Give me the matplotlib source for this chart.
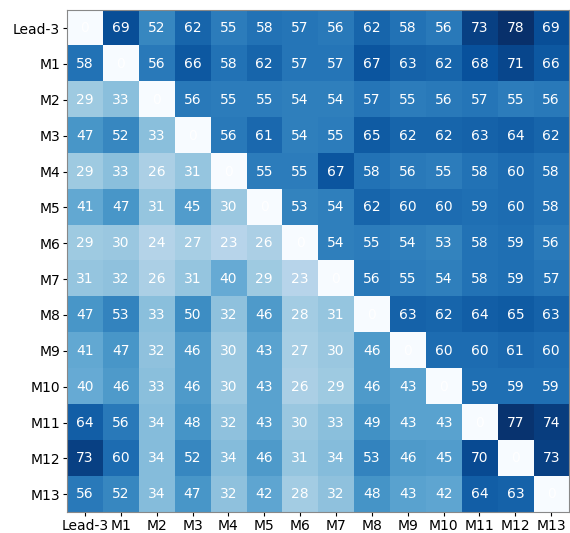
import numpy as np
import matplotlib
matplotlib.use('Agg')
import matplotlib.pyplot as plt

labels = ['Lead-3', 'M1', 'M2', 'M3', 'M4', 'M5', 'M6', 'M7', 'M8', 'M9', 'M10', 'M11', 'M12', 'M13']

row_lead3 = [0, 69, 52, 62, 55, 58, 57, 56, 62, 58, 56, 73, 78, 69]
row_m1 = [58, 0, 56, 66, 58, 62, 57, 57, 67, 63, 62, 68, 71, 66]
row_m2 = [29, 33, 0, 56, 55, 55, 54, 54, 57, 55, 56, 57, 55, 56]
row_m3 = [47, 52, 33, 0, 56, 61, 54, 55, 65, 62, 62, 63, 64, 62]
row_m4 = [29, 33, 26, 31, 0, 55, 55, 67, 58, 56, 55, 58, 60, 58]
row_m5 = [41, 47, 31, 45, 30, 0, 53, 54, 62, 60, 60, 59, 60, 58]
row_m6 = [29, 30, 24, 27, 23, 26, 0, 54, 55, 54, 53, 58, 59, 56]
row_m7 = [31, 32, 26, 31, 40, 29, 23, 0, 56, 55, 54, 58, 59, 57]
row_m8 = [47, 53, 33, 50, 32, 46, 28, 31, 0, 63, 62, 64, 65, 63]
row_m9 = [41, 47, 32, 46, 30, 43, 27, 30, 46, 0, 60, 60, 61, 60]
row_m10 = [40, 46, 33, 46, 30, 43, 26, 29, 46, 43, 0, 59, 59, 59]
row_m11 = [64, 56, 34, 48, 32, 43, 30, 33, 49, 43, 43, 0, 77, 74]
row_m12 = [73, 60, 34, 52, 34, 46, 31, 34, 53, 46, 45, 70, 0, 73]
row_m13 = [56, 52, 34, 47, 32, 42, 28, 32, 48, 43, 42, 64, 63, 0]

mat = np.array([row_lead3, row_m1, row_m2, row_m3, row_m4, row_m5, row_m6,
                row_m7, row_m8, row_m9, row_m10, row_m11, row_m12, row_m13])

fig = plt.figure(figsize=(5.7, 5.33), dpi=100)
ax = fig.add_axes([0.1175, 0.039, 0.881, 0.942])
ax.imshow(mat, cmap=plt.cm.Blues, interpolation='nearest', aspect='auto')

for i in range(mat.shape[0]):
    for j in range(mat.shape[1]):
        ax.text(j, i, str(mat[i, j]), ha='center', va='center', color='white', fontsize=10)

ax.set_xticks(np.arange(len(labels)))
ax.set_yticks(np.arange(len(labels)))
ax.set_xticklabels(labels, fontsize=10)
ax.set_yticklabels(labels, fontsize=10)
ax.tick_params(length=3, pad=2)
for s in ax.spines.values():
    s.set_color('#888888')

fig.savefig('out.png', dpi=100)
